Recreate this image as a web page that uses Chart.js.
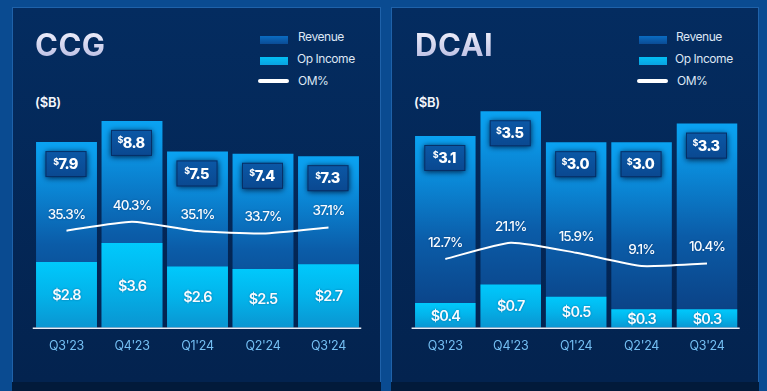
<!DOCTYPE html>
<html><head><meta charset="utf-8">
<script src="https://cdn.jsdelivr.net/npm/chart.js@4.4.1/dist/chart.umd.min.js"></script>
<style>
html,body{margin:0;padding:0;width:767px;height:391px;overflow:hidden;background:#0a4b91;font-family:Inter,"Noto Sans",sans-serif;}
.panel{position:absolute;top:7px;height:384px;background:linear-gradient(#042c60,#03234f 97%);border:1px solid #1f62aa;border-bottom:none;box-sizing:border-box;}
.panel .foot{position:absolute;left:-1px;right:-1px;bottom:0;height:9px;background:#021a3a;}
.title{position:absolute;font-size:31px;line-height:31px;font-weight:700;letter-spacing:0.5px;color:#dcdff5;background:linear-gradient(#f2f2fc,#b9bde3);-webkit-background-clip:text;background-clip:text;-webkit-text-fill-color:transparent;}
.unit{position:absolute;font-size:13px;line-height:13px;font-weight:600;color:#f4f7fc;letter-spacing:-0.2px;}
.sw{position:absolute;width:28px;height:8px;}
.rev{background:linear-gradient(#0a6cc2,#0b4c95);}
.op{background:linear-gradient(#03bff4,#0aa2df);}
.ln{position:absolute;width:31px;height:4px;border-radius:2px;background:#fff;}
.lt{position:absolute;font-size:12px;line-height:12px;color:#dde6f4;letter-spacing:-0.45px;}
canvas{position:absolute;}
</style></head>
<body>
<div class="panel" style="left:12px;width:369px;"><div class="foot"></div></div>
<div class="panel" style="left:391px;width:368px;"><div class="foot"></div></div>

<div class="title" style="left:35px;top:29px;">CCG</div>
<div class="title" style="left:415px;top:29px;">DCAI</div>
<div class="unit" style="left:35px;top:96px;">($B)</div>
<div class="unit" style="left:414px;top:96px;">($B)</div>

<div class="sw rev" style="left:260px;top:36px;"></div><div class="lt" style="left:298px;top:31px;">Revenue</div>
<div class="sw op" style="left:260px;top:57px;"></div><div class="lt" style="left:297px;top:53px;">Op Income</div>
<div class="ln" style="left:258px;top:79px;"></div><div class="lt" style="left:298px;top:75px;">OM%</div>

<div class="sw rev" style="left:639px;top:36px;"></div><div class="lt" style="left:676px;top:31px;">Revenue</div>
<div class="sw op" style="left:639px;top:57px;"></div><div class="lt" style="left:675px;top:53px;">Op Income</div>
<div class="ln" style="left:637px;top:79px;"></div><div class="lt" style="left:677px;top:75px;">OM%</div>

<canvas id="ccg" width="369" height="374" style="left:12px;top:8px;"></canvas>
<canvas id="dcai" width="368" height="374" style="left:391px;top:8px;"></canvas>

<script>
// ---- data ----
const categories = ["Q3'23", "Q4'23", "Q1'24", "Q2'24", "Q3'24"];
const ccgRevenue  = [7.9, 8.8, 7.5, 7.4, 7.3];
const ccgOpIncome = [2.8, 3.6, 2.6, 2.5, 2.7];
const ccgMargin   = [35.3, 40.3, 35.1, 33.7, 37.1];
const dcaiRevenue  = [3.1, 3.5, 3.0, 3.0, 3.3];
const dcaiOpIncome = [0.4, 0.7, 0.5, 0.3, 0.3];
const dcaiMargin   = [12.7, 21.1, 15.9, 9.1, 10.4];

function barGradient(stops) {
  return function (c) {
    const chart = c.chart;
    if (!chart.chartArea || c.raw == null) return stops[0][1];
    const ys = chart.scales.y;
    const top = ys.getPixelForValue(c.raw), bot = ys.getPixelForValue(0);
    const g = chart.ctx.createLinearGradient(0, top, 0, bot);
    stops.forEach(s => g.addColorStop(s[0], s[1]));
    return g;
  };
}
const revStops = [[0, '#0aa3f2'], [0.12, '#0a98e8'], [0.55, '#0b5ca8'], [1, '#0b3c7e']];
const opStops = [[0, '#00c9fc'], [0.5, '#03b3ea'], [1, '#0a95d1']];

const labelPlugin = {
  id: 'valueLabels',
  afterDatasetsDraw(chart) {
    const { ctx, chartArea, scales: { x, y, y2 } } = chart;
    const rev = chart.data.datasets[0].data;
    const op = chart.data.datasets[1].data;
    const om = chart.data.datasets[2].data;
    ctx.save();
    // baseline
    ctx.strokeStyle = '#e9eef7';
    ctx.lineWidth = 1.5;
    ctx.beginPath();
    ctx.moveTo(chartArea.left - 1, chartArea.bottom + 0.5);
    ctx.lineTo(chartArea.right, chartArea.bottom + 0.5);
    ctx.stroke();

    ctx.textAlign = 'center';
    ctx.textBaseline = 'alphabetic';
    chart.data.labels.forEach((lab, i) => {
      const cx = x.getPixelForValue(i);
      // category labels
      ctx.letterSpacing = '-0.3px';
      ctx.font = '400 12.5px Inter, sans-serif';
      ctx.fillStyle = '#74bff3';
      ctx.fillText(lab, cx, chartArea.bottom + 22);

      // revenue box
      const ty = y.getPixelForValue(rev[i]);
      const bx = cx - 21, by = ty + 9, bw = 41, bh = 26;
      ctx.save();
      ctx.shadowColor = 'rgba(0,10,40,0.85)';
      ctx.shadowBlur = 6;
      ctx.shadowOffsetY = 1;
      const bg = ctx.createLinearGradient(0, by, 0, by + bh);
      bg.addColorStop(0, '#0b58a6');
      bg.addColorStop(1, '#0a4890');
      ctx.fillStyle = bg;
      ctx.fillRect(bx, by, bw, bh);
      ctx.restore();
      ctx.strokeStyle = 'rgba(5,40,90,0.8)';
      ctx.lineWidth = 1;
      ctx.strokeRect(bx + 0.5, by + 0.5, bw - 1, bh - 1);

      const valTxt = rev[i].toFixed(1);
      ctx.letterSpacing = '-0.6px';
      ctx.font = '800 14.5px Inter, sans-serif';
      const wv = ctx.measureText(valTxt).width;
      ctx.font = '700 9px Inter, sans-serif';
      const wd = ctx.measureText('$').width;
      const sx = cx - 1 - (wv + wd) / 2;
      const midY = by + bh / 2;
      ctx.textAlign = 'left';
      ctx.fillStyle = '#ffffff';
      ctx.fillText('$', sx, midY + 0.5);
      ctx.font = '800 14.5px Inter, sans-serif';
      ctx.fillText(valTxt, sx + wd, midY + 5.2);
      ctx.textAlign = 'center';

      // op income label
      const oy = (y.getPixelForValue(op[i]) + y.getPixelForValue(0)) / 2;
      ctx.save();
      ctx.shadowColor = 'rgba(0,30,80,0.45)';
      ctx.shadowBlur = 2;
      ctx.letterSpacing = '-0.9px';
      ctx.font = '600 14.5px Inter, sans-serif';
      ctx.fillStyle = '#f7fbff';
      ctx.fillText('$' + op[i].toFixed(1), cx, oy + 5.2);

      // OM% label
      const my = y2.getPixelForValue(om[i]) - 17;
      ctx.letterSpacing = '-0.9px';
      ctx.font = '500 13.5px Inter, sans-serif';
      ctx.fillText(om[i].toFixed(1) + '%', cx, my + 4.9);
      ctx.restore();
    });
    ctx.restore();
  }
};

function makeChart(id, rev, op, om, yMax, y2Min, y2Max, pad, catPct) {
  return new Chart(document.getElementById(id), {
    data: {
      labels: categories,
      datasets: [
        { type: 'bar', label: 'Revenue', data: rev, yAxisID: 'y', order: 3, grouped: false,
          backgroundColor: barGradient(revStops), borderWidth: 0,
          barPercentage: 1, categoryPercentage: catPct },
        { type: 'bar', label: 'Op Income', data: op, yAxisID: 'y', order: 2, grouped: false,
          backgroundColor: barGradient(opStops), borderWidth: 0,
          barPercentage: 1, categoryPercentage: catPct },
        { type: 'line', label: 'OM%', data: om, yAxisID: 'y2', order: 1,
          borderColor: '#ffffff', borderWidth: 2, pointRadius: 0, tension: 0.18, fill: false }
      ]
    },
    options: {
      responsive: false,
      animation: false,
      events: [],
      layout: { padding: pad },
      plugins: { legend: { display: false }, tooltip: { enabled: false } },
      scales: {
        x: { display: false, offset: true },
        y: { display: false, min: 0, max: yMax },
        y2: { display: false, min: y2Min, max: y2Max }
      }
    },
    plugins: [labelPlugin]
  });
}

makeChart('ccg', ccgRevenue, ccgOpIncome, ccgMargin, 10, -18.6, 111.9,
  { left: 21.75, right: 19.75, top: 84.7, bottom: 54.3 }, 0.93);
makeChart('dcai', dcaiRevenue, dcaiOpIncome, dcaiMargin, 3.8, -22.7, 98.4,
  { left: 21.6, right: 19.3, top: 84.7, bottom: 54.3 }, 0.925);
</script>
</body></html>
